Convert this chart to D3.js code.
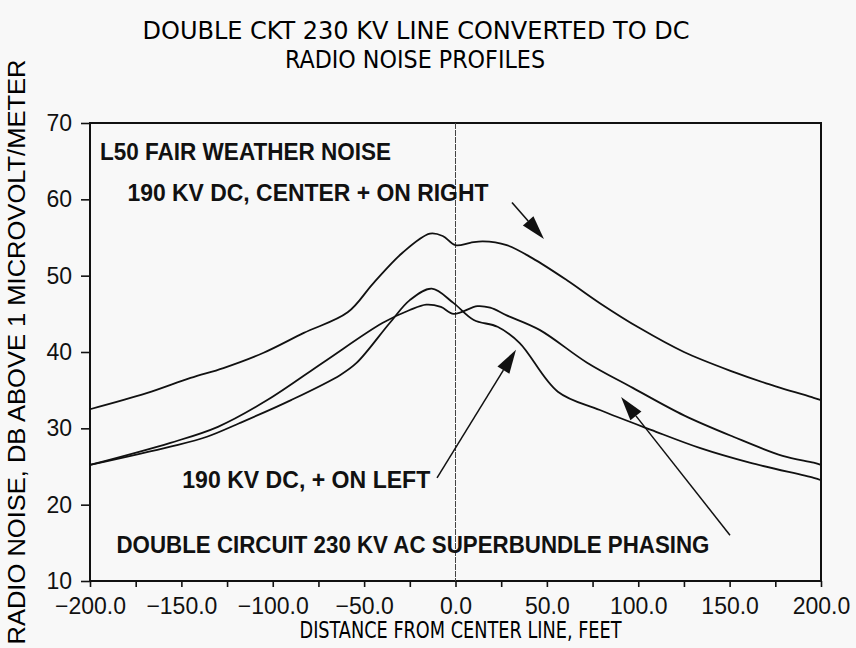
<!DOCTYPE html>
<html>
<head>
<meta charset="utf-8">
<script src="https://cdn.jsdelivr.net/npm/d3@7"></script>
<style>
  body { margin: 0; background: #f8f8f8; }
  svg { display: block; }
</style>
</head>
<body>
<div id="chart"></div>
<script>
const xTicks = [-200, -150, -100, -50, 0, 50, 100, 150, 200]
const xMinorTicks = [-200, -175, -150, -125, -100, -75, -50, -25, 0, 25, 50, 75, 100, 125, 150, 175, 200]
const yTicks = [10, 20, 30, 40, 50, 60, 70]

// 190 kV DC, center + on right
const dcCenterX = [-200, -169, -145, -127, -105, -83, -59, -45, -29, -14, -7, 0, 8, 15, 28, 42, 61, 79, 101, 125, 152, 170, 196, 200]
const dcCenterY = [32.5, 34.6, 36.6, 37.9, 39.9, 42.5, 45.2, 49.0, 53.0, 55.5, 55.2, 54.0, 54.3, 54.5, 54.0, 52.3, 49.4, 46.4, 43.1, 40.0, 37.4, 35.9, 34.0, 33.7]

// 190 kV DC, + on left
const dcLeftX = [-200, -156, -136, -118, -90, -63, -54, -36, -25, -13, -1, 10, 23, 35, 56, 79, 107, 134, 161, 196, 200]
const dcLeftY = [25.2, 27.6, 28.9, 30.7, 33.7, 37.0, 38.6, 43.8, 46.8, 48.3, 46.4, 44.2, 43.3, 41.2, 34.8, 32.4, 29.8, 27.4, 25.5, 23.5, 23.2]

// double circuit 230 kV AC superbundle
const acX = [-200, -156, -130, -103, -72, -40, -25, -16, -8, -1, 12, 19, 28, 46, 72, 97, 125, 152, 179, 196, 200]
const acY = [25.2, 28.1, 30.2, 33.7, 38.7, 43.8, 45.5, 46.2, 45.9, 45.0, 46.0, 45.8, 44.8, 42.9, 38.6, 35.3, 31.7, 28.9, 26.4, 25.5, 25.2]

const labels = [
  { text: 'L50 FAIR WEATHER NOISE', x: -194.5, y: 65.1, len: 291 },
  { text: '190 KV DC, CENTER + ON RIGHT', x: -179.5, y: 59.8, len: 361 },
  { text: '190 KV DC, + ON LEFT', x: -149.5, y: 22.2, len: 248 },
  { text: 'DOUBLE CIRCUIT 230 KV AC SUPERBUNDLE PHASING', x: -185.5, y: 13.7, len: 593 }
]

const arrows = [
  { x1: 30.9, y1: 59.6, x2: 48.4, y2: 54.8 },
  { x1: -10.1, y1: 23.5, x2: 33.1, y2: 40.3 },
  { x1: 150.2, y1: 16.0, x2: 90.6, y2: 34.1 }
]

const width = 856
const height = 648
const margin = { top: 123, right: 35, bottom: 67, left: 90 }

const svg = d3.select('#chart')
  .append('svg')
  .attr('width', width)
  .attr('height', height)

svg.append('rect')
  .attr('width', width)
  .attr('height', height)
  .attr('fill', '#f8f8f8')

const x = d3.scaleLinear().domain([-200, 200]).range([margin.left, width - margin.right])
const y = d3.scaleLinear().domain([10, 70]).range([height - margin.bottom, margin.top])

const condensed = '"Liberation Sans Narrow", "DejaVu Sans Condensed", "Liberation Sans", sans-serif'
const plain = '"Liberation Sans", Arial, sans-serif'

// title
svg.append('text')
  .attr('x', 416).attr('y', 39)
  .attr('text-anchor', 'middle')
  .attr('font-family', condensed)
  .attr('font-size', 24)
  .attr('textLength', 547).attr('lengthAdjust', 'spacingAndGlyphs')
  .text('DOUBLE CKT 230 KV LINE CONVERTED TO DC')

svg.append('text')
  .attr('x', 415).attr('y', 68)
  .attr('text-anchor', 'middle')
  .attr('font-family', condensed)
  .attr('font-size', 24)
  .attr('textLength', 260).attr('lengthAdjust', 'spacingAndGlyphs')
  .text('RADIO NOISE PROFILES')

// axes
const xAxis = svg.append('g')
  .attr('transform', `translate(0,${y(10)})`)
  .call(d3.axisBottom(x).tickValues(xMinorTicks).tickSize(6).tickFormat(''))

xAxis.selectAll('.tick')
  .filter(d => xTicks.includes(d))
  .append('text')
  .attr('y', 33)
  .attr('fill', '#111')
  .attr('font-family', plain)
  .attr('font-size', 23)
  .attr('text-anchor', 'middle')
  .text(d => (d < 0 ? '\u2212' : '') + Math.abs(d).toFixed(1))

const yAxis = svg.append('g')
  .attr('transform', `translate(${x(-200)},0)`)
  .call(d3.axisLeft(y).tickValues(yTicks).tickSize(9).tickPadding(9).tickFormat(d3.format('d')))

yAxis.selectAll('text')
  .attr('fill', '#111')
  .attr('font-family', plain)
  .attr('font-size', 23)

svg.selectAll('.domain').remove()
svg.selectAll('.tick line').attr('stroke', '#111').attr('stroke-width', 1.6)

// frame
svg.append('rect')
  .attr('x', x(-200)).attr('y', y(70))
  .attr('width', x(200) - x(-200)).attr('height', y(10) - y(70))
  .attr('fill', 'none')
  .attr('stroke', '#111')
  .attr('stroke-width', 2)

// center line
svg.append('line')
  .attr('x1', x(0)).attr('x2', x(0))
  .attr('y1', y(70)).attr('y2', y(10))
  .attr('stroke', '#444')
  .attr('stroke-width', 1)
  .attr('stroke-dasharray', '6,1')

svg.append('text')
  .attr('x', x(0) + 5).attr('y', 638)
  .attr('text-anchor', 'middle')
  .attr('font-family', condensed)
  .attr('font-size', 23)
  .attr('textLength', 322).attr('lengthAdjust', 'spacingAndGlyphs')
  .text('DISTANCE FROM CENTER LINE,  FEET')

svg.append('text')
  .attr('transform', 'translate(25,352) rotate(-90)')
  .attr('text-anchor', 'middle')
  .attr('font-family', plain)
  .attr('font-size', 23)
  .attr('textLength', 585).attr('lengthAdjust', 'spacingAndGlyphs')
  .text('RADIO NOISE,  DB ABOVE 1 MICROVOLT/METER')

// curves
const line = d3.line()
  .x(d => x(d[0]))
  .y(d => y(d[1]))
  .curve(d3.curveCatmullRom.alpha(0.5))

const series = [
  d3.zip(dcCenterX, dcCenterY),
  d3.zip(dcLeftX, dcLeftY),
  d3.zip(acX, acY)
]

svg.selectAll('path.curve')
  .data(series)
  .join('path')
  .attr('class', 'curve')
  .attr('d', line)
  .attr('fill', 'none')
  .attr('stroke', '#111')
  .attr('stroke-width', 1.8)

// annotations
svg.selectAll('text.note')
  .data(labels)
  .join('text')
  .attr('class', 'note')
  .attr('x', d => x(d.x))
  .attr('y', d => y(d.y))
  .attr('font-family', plain)
  .attr('font-weight', 'bold')
  .attr('font-size', 23)
  .attr('fill', '#111')
  .attr('textLength', d => d.len)
  .attr('lengthAdjust', 'spacingAndGlyphs')
  .text(d => d.text)

const headLen = 24
const headHalf = 7

arrows.forEach(a => {
  const px1 = x(a.x1), py1 = y(a.y1), px2 = x(a.x2), py2 = y(a.y2)
  const ang = Math.atan2(py2 - py1, px2 - px1)
  const bx = px2 - headLen * Math.cos(ang)
  const by = py2 - headLen * Math.sin(ang)
  const nx = -Math.sin(ang) * headHalf
  const ny = Math.cos(ang) * headHalf

  svg.append('line')
    .attr('x1', px1).attr('y1', py1)
    .attr('x2', bx).attr('y2', by)
    .attr('stroke', '#111')
    .attr('stroke-width', 1.5)

  svg.append('path')
    .attr('d', `M${px2},${py2}L${bx + nx},${by + ny}L${bx - nx},${by - ny}Z`)
    .attr('fill', '#111')
})
</script>
</body>
</html>
